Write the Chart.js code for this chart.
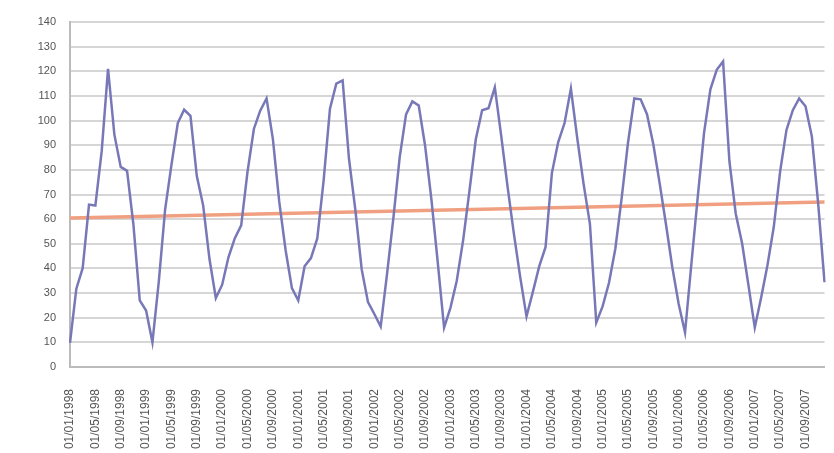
<!DOCTYPE html>
<html>
<head>
<meta charset="utf-8">
<script src="https://cdn.jsdelivr.net/npm/chart.js@4/dist/chart.umd.min.js"></script>
<style>
  html, body { margin: 0; padding: 0; background: #fff; }
  #wrap { width: 834px; height: 453px; }
</style>
</head>
<body>
<div id="wrap"><canvas id="chart" width="834" height="453"></canvas></div>
<script>
// monthly categories, ten years
const years = ["1998", "1999", "2000", "2001", "2002", "2003", "2004", "2005", "2006", "2007"];
const monthNums = ["01", "02", "03", "04", "05", "06", "07", "08", "09", "10", "11", "12"];

// series
const values = [
  9.8, 31.8, 40.1, 65.9, 65.5, 87.6, 121, 94.3, 81.2, 79.6, 57.9, 27,
  22.9, 10, 34.5, 63.9, 82, 99, 104.4, 101.9, 77.5, 65.6, 43.8, 28,
  33.4, 44.6, 52.3, 57.5, 79.3, 96.6, 104, 109, 92.5, 67.1, 47.5, 32,
  27, 40.9, 44.2, 52.2, 75.6, 104.8, 115, 116.3, 84.5, 63.9, 39.7, 26.3,
  21.5, 16.4, 37.7, 60.4, 85.2, 102.5, 107.8, 106.1, 89.9, 68, 42.5, 16,
  24, 35, 51.4, 71.5, 92.4, 104.2, 105, 113.5, 94, 73.4, 54.2, 36.6,
  20.5, 30.5, 40.8, 48.6, 78.7, 91.3, 99, 113, 92.9, 74.3, 58.1, 18,
  24.6, 34.1, 47.9, 68.4, 90.9, 109, 108.6, 102.6, 90.4, 74.5, 57.8, 40.4,
  25.6, 14, 41.8, 68.8, 95, 112.7, 120.6, 124, 83.5, 62.2, 50.2, 33.2,
  16, 28.1, 41.3, 56.9, 79.4, 96.2, 104.2, 109, 105.8, 93.6, 66.3, 34.4
];

// linear trend end points
const trendStart = 60.5;
const trendEnd = 67;

const labels = [];
years.forEach(y => monthNums.forEach(m => labels.push("01/" + m + "/" + y)));

const trend = values.map((v, i) => i === 0 ? trendStart : (i === values.length - 1 ? trendEnd : null));

new Chart(document.getElementById("chart"), {
  type: "line",
  data: {
    labels: labels,
    datasets: [
      {
        label: "Series",
        data: values,
        borderColor: "#7878b8",
        borderWidth: 2.5,
        pointRadius: 0,
        tension: 0,
        order: 1
      },
      {
        label: "Trend",
        data: trend,
        borderColor: "#f0a080",
        borderWidth: 3.5,
        pointRadius: 0,
        spanGaps: true,
        order: 2
      }
    ]
  },
  options: {
    responsive: false,
    animation: false,
    layout: { padding: { top: 22, right: 4, left: 0, bottom: 0 } },
    plugins: {
      legend: { display: false },
      tooltip: { enabled: false }
    },
    scales: {
      x: {
        offset: false,
        grid: { display: false },
        border: { display: true, color: "#bbbbbb", width: 2 },
        ticks: {
          autoSkip: false,
          maxRotation: 90,
          minRotation: 90,
          color: "#555",
          font: { family: "Liberation Sans", size: 12 },
          padding: 14,
          callback: function (val, idx) {
            return idx % 4 === 0 ? this.getLabelForValue(val) : null;
          }
        },
        afterFit: s => { s.height = 86; }
      },
      y: {
        min: 0,
        max: 140,
        grid: { color: "#d6d6d6", lineWidth: 2, drawTicks: false },
        border: { display: true, color: "#bbbbbb", width: 2 },
        ticks: {
          stepSize: 10,
          color: "#555",
          font: { family: "Liberation Sans", size: 11 },
          padding: 14
        },
        afterFit: s => { s.width = 70; }
      }
    }
  }
});
</script>
</body>
</html>
